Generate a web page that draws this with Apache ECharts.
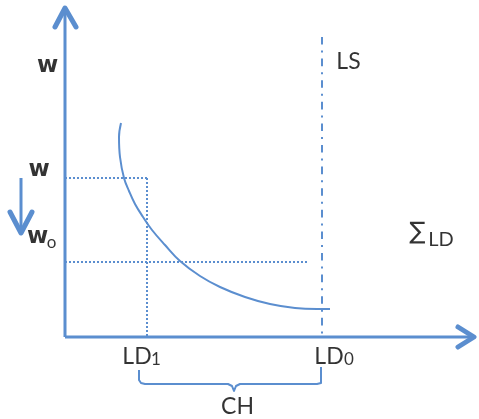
<!DOCTYPE html>
<html><head><meta charset="utf-8">
<script src="https://cdn.jsdelivr.net/npm/echarts@6/dist/echarts.min.js"></script>
<style>html,body{margin:0;padding:0;background:#fff}#c{width:479px;height:419px}</style>
</head><body><div id="c"></div>
<script>
// ---- data (labour quantity X, wage Y; origin at the axes' corner) ----
const demandCurveLD = [[56,214],[54,200],[55,180],[59,159],[64,146],[70,133],[78,120],[87,107],[100,92],[115,76],[135,61],[155,50],[180,40],[205,33],[230,29],[252,28],[265,28]];
const supplyLS = [[257,300],[257,0]];
const wageW = 159, wageW0 = 75;
const quantityLD1 = 82, quantityLD0 = 257;
const wLine = [[0,wageW],[quantityLD1,wageW]];
const ld1Line = [[quantityLD1,wageW],[quantityLD1,0]];
const w0Line = [[0,wageW0],[243,wageW0]];
const yAxisLine = [[0,0],[0,328]];
const yAxisHead = [[-10,310],[0,329],[11,310]];
const xAxisLine = [[0,0],[407,0]];
const xAxisHead = [[393,10],[409,0],[393,-10]];
const wageDropLine = [[-44,159],[-44,105]];
const wageDropHead = [[-55,125],[-44,104],[-33,125]];
const chBrace = [[74,-33],[74,-43],[76,-46],[80,-47],[163,-47],[167,-49],[169,-54],[171,-49],[175,-47],[252,-47],[256,-46],[256,-30]];
// labels: [text, x, y]
const bigLabels = [['LS',283.5,275],['LD',72,-19.5],['LD',264,-19.5],['CH',172.5,-69.5]];
const wLabels = [['w',-17.5,270.5],['w',-26,167],['w',-27.5,99.5]];
const subLabels = [['o',-13.5,94],['1',91,-23],['0',284,-23]];
const sumSign = [['∑',352.5,104]];
const sumLabels = [['LD',376,97]];

const BLUE = '#5b8ecf';
function lineSeries(data, width, type, cap){
  return {type:'line', data, showSymbol:false, silent:true, animation:false,
    lineStyle:{color:BLUE, width, type:type||'solid', cap:cap||'butt', join:'round'}};
}
function labelSeries(list, font, size, weight){
  return {type:'scatter', symbolSize:0, silent:true, animation:false,
    data: list.map(l=>({value:[l[1],l[2]], name:l[0]})),
    label:{show:true, position:'inside', formatter:p=>p.name, color:'#000',
      fontFamily:font, fontSize:size, fontWeight:weight||'normal', align:'center', verticalAlign:'middle'}};
}
const chart = echarts.init(document.getElementById('c'));
chart.setOption({
  animation:false,
  grid:{left:0,right:0,top:0,bottom:0},
  xAxis:{type:'value',min:-65,max:414,show:false},
  yAxis:{type:'value',min:-82,max:337,show:false},
  series:[
    lineSeries(yAxisLine,3),
    lineSeries(yAxisHead,5,'solid','round'),
    lineSeries(xAxisLine,3),
    lineSeries(xAxisHead,5,'solid','round'),
    lineSeries(wageDropLine,3),
    lineSeries(wageDropHead,5,'solid','round'),
    lineSeries(wLine,2,[2,2]),
    lineSeries(ld1Line,2,[2,2]),
    lineSeries(w0Line,2,[2,2]),
    lineSeries(supplyLS,2,[7.6,6,2,6]),
    Object.assign(lineSeries(demandCurveLD,2),{smooth:0.4}),
    lineSeries(chBrace,2),
    labelSeries(bigLabels,'Lato',23),
    labelSeries(wLabels,'DejaVu Sans',23,'bold'),
    labelSeries(subLabels,'Lato',17),
    labelSeries(sumSign,'DejaVu Sans',24),
    labelSeries(sumLabels,'Lato',20)
  ]
});
</script></body></html>
